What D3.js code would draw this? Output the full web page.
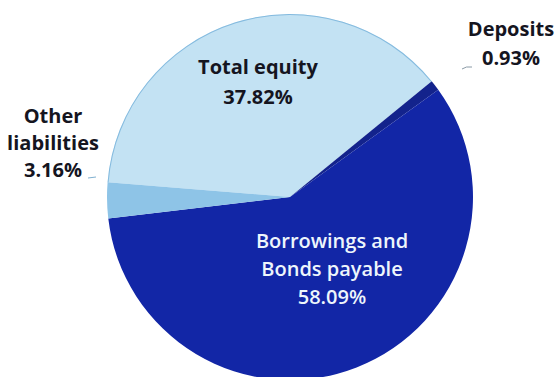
<!DOCTYPE html>
<html>
<head>
<meta charset="utf-8">
<script src="https://cdn.jsdelivr.net/npm/d3@7"></script>
<style>
  body { margin: 0; background: #fff; }
  text { font-family: "Open Sans", "Noto Sans", sans-serif; font-weight: 700; }
</style>
</head>
<body>
<div id="chart"></div>
<script>
// data
var categories = ["Total equity", "Deposits", "Borrowings and Bonds payable", "Other liabilities"];
var shares = [37.82, 0.93, 58.09, 3.16];
var labelLines = [
  ["Total equity", "37.82%"],
  ["Deposits", "0.93%"],
  ["Borrowings and", "Bonds payable", "58.09%"],
  ["Other", "liabilities", "3.16%"]
];

function init(){
  var w = 557, h = 377;
  var cx = 290, cy = 197, r = 183;

  var colors = d3.scaleOrdinal()
    .domain(categories)
    .range(["#c3e2f3", "#13238c", "#1226a6", "#8ec4e7"]);

  // where the equity slice begins (deg, clockwise from 12 o'clock)
  var start = -85.4 * Math.PI / 180;
  var pie = d3.pie()
    .sort(null)
    .startAngle(start)
    .endAngle(start + 2 * Math.PI);

  var arc = d3.arc().innerRadius(0).outerRadius(r);

  var svg = d3.select("#chart").append("svg")
    .attr("width", w)
    .attr("height", h);

  var g = svg.append("g").attr("transform", "translate(" + cx + "," + cy + ")");

  var slices = pie(shares);

  g.selectAll("path")
    .data(slices)
    .enter()
    .append("path")
    .attr("d", arc)
    .style("fill", function(d, i){ return colors(categories[i]); });

  // thin edge on the light part
  g.append("path")
    .attr("d", d3.arc().innerRadius(r - 1).outerRadius(r)(slices[0]))
    .style("fill", "#6aaad6")
    .style("opacity", 0.7);

  // label positions (text centre x, first baseline y)
  var labelPos = [[258, 74], [511, 36], [332, 248], [53, 123]];
  var labelColor = ["#15151f", "#15151f", "#eef6fc", "#15151f"];
  var lineGap = [30, 29, 28, 27];

  labelLines.forEach(function(lines, i){
    var t = svg.append("text")
      .attr("text-anchor", "middle")
      .style("font-size", "20px")
      .style("font-weight", i == 2 ? 600 : 700)
      .style("fill", labelColor[i]);
    lines.forEach(function(s, j){
      t.append("tspan")
        .attr("x", labelPos[i][0])
        .attr("y", labelPos[i][1] + j * lineGap[i])
        .text(s);
    });
  });

  // small leader marks
  svg.append("path")
    .attr("d", "M462,69 Q466,66 472,67")
    .style("fill", "none").style("stroke", "#8a9aa6").style("stroke-width", 1);
  svg.append("path")
    .attr("d", "M88,178 L96,177")
    .style("fill", "none").style("stroke", "#7fb0d0").style("stroke-width", 1);
}
window.onload = init;
</script>
</body>
</html>
